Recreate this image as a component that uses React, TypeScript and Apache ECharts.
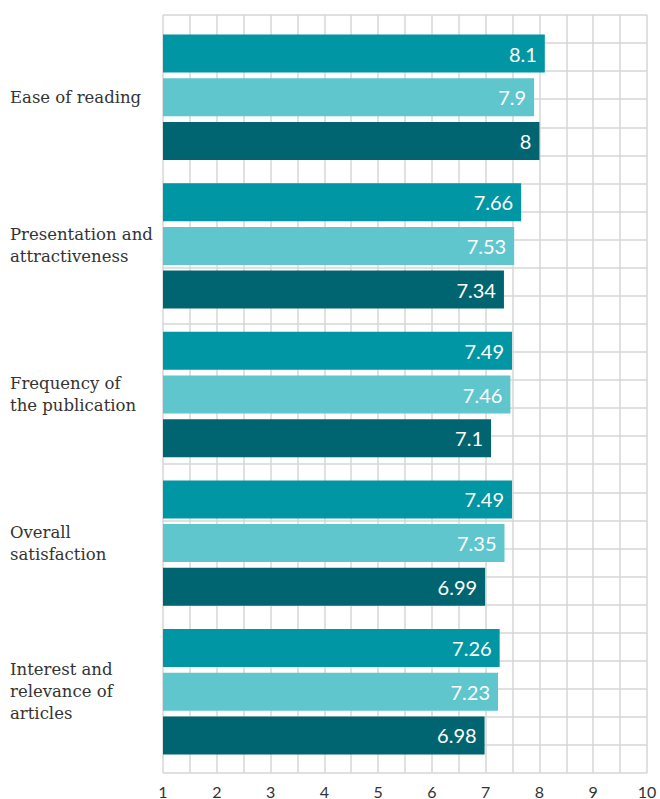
import React, { useEffect, useRef } from "react";
import * as echarts from "echarts";

const categories = [
  "Ease of reading",
  "Presentation and\nattractiveness",
  "Frequency of\nthe publication",
  "Overall\nsatisfaction",
  "Interest and\nrelevance of\narticles",
];
const seriesA = [8.1, 7.66, 7.49, 7.49, 7.26];
const seriesB = [7.9, 7.53, 7.46, 7.35, 7.23];
const seriesC = [8, 7.34, 7.1, 6.99, 6.98];
const colors = ["#0096A3", "#5EC6CC", "#006570"];

export default function App() {
  const ref = useRef<HTMLDivElement>(null);
  useEffect(() => {
    if (!ref.current) return;
    const chart = echarts.init(ref.current, undefined, { renderer: "svg" });
    const gridLine = { lineStyle: { color: "#d6d6d6", width: 1.5 } };
    const left = 163;
    const right = 13;
    const mkSeries = (name: string, data: number[], color: string) => ({
      name,
      type: "bar",
      xAxisIndex: 1,
      yAxisIndex: 1,
      data,
      barWidth: 38,
      barGap: "15%",
      itemStyle: { color },
      label: {
        show: true,
        position: "insideRight",
        distance: 8,
        color: "#ffffff",
        fontSize: 20,
        fontFamily: "Lato",
      },
    });
    chart.setOption({
      animation: false,
      grid: [
        { left, right, top: 15, height: 759 },
        { left, right, top: 23, height: 743 },
      ],
      xAxis: [
        {
          gridIndex: 0,
          type: "value",
          min: 1,
          max: 10,
          interval: 1,
          axisLine: { show: false },
          axisTick: { show: false },
          splitLine: { show: true, ...gridLine },
          minorTick: { show: false, splitNumber: 2 },
          minorSplitLine: { show: true, ...gridLine },
          axisLabel: { color: "#333", fontSize: 16, fontFamily: "Lato", margin: 10 },
        },
        {
          gridIndex: 1,
          type: "value",
          min: 1,
          max: 10,
          show: false,
        },
      ],
      yAxis: [
        {
          gridIndex: 0,
          type: "value",
          min: 0,
          max: 27,
          interval: 1,
          axisLine: { show: false },
          axisTick: { show: false },
          axisLabel: { show: false },
          splitLine: { show: true, ...gridLine },
        },
        {
          gridIndex: 1,
          type: "category",
          data: categories,
          inverse: true,
          axisLine: { show: false },
          axisTick: { show: false },
          axisLabel: {
            align: "left",
            margin: left - 10,
            color: "#333",
            fontSize: 16.5,
            lineHeight: 22,
            fontFamily: "DejaVu Serif",
          },
        },
      ],
      series: [
        mkSeries("A", seriesA, colors[0]),
        mkSeries("B", seriesB, colors[1]),
        mkSeries("C", seriesC, colors[2]),
      ],
    });
    return () => chart.dispose();
  }, []);
  return (
    <div
      ref={ref}
      style={{ position: "fixed", left: 0, top: 0, width: 660, height: 799, background: "#fff" }}
    />
  );
}
